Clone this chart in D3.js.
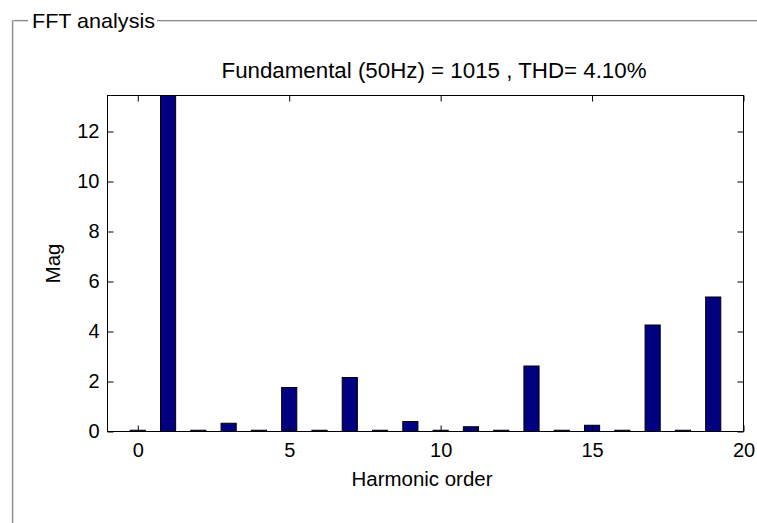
<!DOCTYPE html>
<html>
<head>
<meta charset="utf-8">
<script src="https://cdn.jsdelivr.net/npm/d3@7"></script>
<style>
  html, body { margin: 0; padding: 0; background: #fff; }
  svg { display: block; }
  text { font-family: "Liberation Sans", Arial, sans-serif; fill: #000; }
</style>
</head>
<body>
<svg id="chart" width="757" height="523"></svg>
<script>
// Harmonic spectrum: order 0 (DC) to 19, magnitude per order
const harmonicOrders = [0, 1, 2, 3, 4, 5, 6, 7, 8, 9, 10, 11, 12, 13, 14, 15, 16, 17, 18, 19];
const magnitudes = [0.05, 1015, 0.05, 0.33, 0.05, 1.76, 0.05, 2.16, 0.05, 0.40, 0.05, 0.19, 0.05, 2.62, 0.05, 0.25, 0.05, 4.26, 0.05, 5.38];
const xTicks = [0, 5, 10, 15, 20];
const yTicks = [0, 2, 4, 6, 8, 10, 12];
const fundamental = 1015;
const thd = 4.10;

const svg = d3.select("#chart");

// Etched group-box frame around the panel
const frame = svg.append("g");
const etch = (x1, y1, x2, y2) => {
  const vertical = x1 === x2;
  frame.append("line").attr("x1", x1).attr("y1", y1).attr("x2", x2).attr("y2", y2)
    .attr("stroke", "#8a8a8a").attr("stroke-width", 1.2);
  frame.append("line")
    .attr("x1", x1 + (vertical ? 1 : 0)).attr("y1", y1 + (vertical ? 0 : 1))
    .attr("x2", x2 + (vertical ? 1 : 0)).attr("y2", y2 + (vertical ? 0 : 1))
    .attr("stroke", "#d8d8d8").attr("stroke-width", 1);
};
etch(12.5, 20.5, 28, 20.5);
etch(157, 20.5, 757, 20.5);
etch(12.5, 20.5, 12.5, 523);
svg.append("text").attr("x", 32).attr("y", 27.5).attr("font-size", 21)
  .attr("textLength", 123).attr("lengthAdjust", "spacingAndGlyphs").text("FFT analysis");

// Plot box
const plotL = 107.5, plotR = 743.5, plotT = 95.5, plotB = 431.5;
const x = d3.scaleLinear().domain([-1, 20]).range([plotL, plotR]);
const y = d3.scaleLinear().domain([0, 13.44]).range([plotB, plotT]);
const barW = x(0.5) - x(0);

svg.append("defs").append("clipPath").attr("id", "plotClip")
  .append("rect").attr("x", plotL).attr("y", plotT).attr("width", plotR - plotL).attr("height", plotB - plotT);

svg.append("g").attr("clip-path", "url(#plotClip)")
  .selectAll("rect").data(harmonicOrders).join("rect")
  .attr("x", d => x(d) - barW / 2)
  .attr("width", barW)
  .attr("y", (d, i) => y(magnitudes[i]))
  .attr("height", (d, i) => y(0) - y(magnitudes[i]))
  .attr("fill", "#000080")
  .attr("stroke", "#000")
  .attr("stroke-width", 1);

// Axes with inward ticks on all four sides
const tickLen = 6;
const axisStyle = g => {
  g.select(".domain").remove();
  g.selectAll(".tick line").attr("stroke", "#000");
  g.selectAll(".tick text").attr("font-size", 20).attr("fill", "#000")
    .attr("font-family", "'Liberation Sans', Arial, sans-serif");
};
svg.append("g").attr("transform", `translate(0,${plotB})`)
  .call(d3.axisBottom(x).tickValues(xTicks).tickSizeInner(-tickLen).tickSizeOuter(0).tickPadding(11.5))
  .call(axisStyle);
svg.append("g").attr("transform", `translate(0,${plotT})`)
  .call(d3.axisTop(x).tickValues(xTicks).tickSizeInner(-tickLen).tickSizeOuter(0).tickFormat(""))
  .call(axisStyle);
svg.append("g").attr("transform", `translate(${plotL},0)`)
  .call(d3.axisLeft(y).tickValues(yTicks).tickSizeInner(-tickLen).tickSizeOuter(0).tickPadding(8))
  .call(axisStyle);
svg.append("g").attr("transform", `translate(${plotR},0)`)
  .call(d3.axisRight(y).tickValues(yTicks).tickSizeInner(-tickLen).tickSizeOuter(0).tickFormat(""))
  .call(axisStyle);

svg.append("rect").attr("x", plotL).attr("y", plotT).attr("width", plotR - plotL).attr("height", plotB - plotT)
  .attr("fill", "none").attr("stroke", "#000").attr("stroke-width", 1);

// Labels
svg.append("text").attr("x", 434).attr("y", 78).attr("text-anchor", "middle")
  .attr("font-size", 21.5).attr("textLength", 425).attr("lengthAdjust", "spacingAndGlyphs")
  .text(`Fundamental (50Hz) = ${fundamental} , THD= ${thd.toFixed(2)}%`);
svg.append("text").attr("x", 422).attr("y", 486).attr("text-anchor", "middle")
  .attr("font-size", 20.5).attr("textLength", 141).attr("lengthAdjust", "spacingAndGlyphs")
  .text("Harmonic order");
svg.append("text").attr("transform", `translate(60,${(plotT + plotB) / 2}) rotate(-90)`)
  .attr("text-anchor", "middle").attr("font-size", 20.5).text("Mag");
</script>
</body>
</html>
